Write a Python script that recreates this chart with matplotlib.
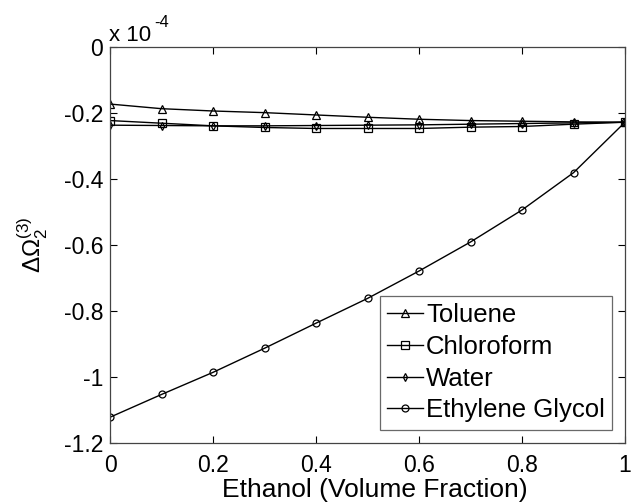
import matplotlib
matplotlib.use("Agg")
import matplotlib.pyplot as plt

plt.rcParams['font.family'] = ['Liberation Sans', 'DejaVu Sans']
plt.rcParams['mathtext.fontset'] = 'custom'
plt.rcParams['mathtext.rm'] = 'Liberation Sans'
plt.rcParams['mathtext.it'] = 'Liberation Sans:italic'
plt.rcParams['mathtext.bf'] = 'Liberation Sans:bold'

# Data (values in units of 1e-4)
ethanol = [0.0, 0.1, 0.2, 0.3, 0.4, 0.5, 0.6, 0.7, 0.8, 0.9, 1.0]
toluene = [-0.172, -0.186, -0.193, -0.198, -0.205, -0.212, -0.218, -0.222, -0.224, -0.226, -0.227]
chloroform = [-0.222, -0.230, -0.238, -0.243, -0.246, -0.246, -0.246, -0.242, -0.240, -0.233, -0.227]
water = [-0.236, -0.237, -0.238, -0.238, -0.237, -0.236, -0.235, -0.233, -0.231, -0.229, -0.227]
ethylene_glycol = [-1.121, -1.052, -0.985, -0.912, -0.836, -0.761, -0.678, -0.590, -0.493, -0.380, -0.227]

series_names = ['Toluene', 'Chloroform', 'Water', 'Ethylene Glycol']
xticks = [0, 0.2, 0.4, 0.6, 0.8, 1]
xticklabels = ['0', '0.2', '0.4', '0.6', '0.8', '1']
yticks = [0, -0.2, -0.4, -0.6, -0.8, -1, -1.2]
yticklabels = ['0', '-0.2', '-0.4', '-0.6', '-0.8', '-1', '-1.2']

W, H = 631, 504
fig = plt.figure(figsize=(W / 100, H / 100), dpi=100)
ax = fig.add_axes([110 / W, (H - 443.3) / H, (625 - 110) / W, (443.3 - 47.3) / H])

common = dict(color='black', lw=1.0, mfc='none', mec='black', mew=0.9)
ax.plot(ethanol, toluene, marker='^', ms=6, label=series_names[0], **common)
ax.plot(ethanol, chloroform, marker='s', ms=5.5, label=series_names[1], **common)
ax.plot(ethanol, water, marker='d', ms=4, label=series_names[2], **common)
ax.plot(ethanol, ethylene_glycol, marker='o', ms=5, label=series_names[3], **common)

ax.set_xlim(0, 1)
ax.set_ylim(-1.2, 0)
ax.set_xticks(xticks)
ax.set_xticklabels(xticklabels)
ax.set_yticks(yticks)
ax.set_yticklabels(yticklabels)
ax.tick_params(direction='in', length=5, width=0.8, top=True, right=True,
               labelsize=16.5, colors='black')
ax.tick_params(axis='x', pad=8)
ax.tick_params(axis='y', pad=5)
for s in ax.spines.values():
    s.set_color('#444444')
    s.set_linewidth(0.9)

ax.set_xlabel('Ethanol (Volume Fraction)', fontsize=19)
ax.xaxis.set_label_coords(0.515, -0.088)
ax.xaxis.label.set_va('top')
ax.set_ylabel(r'$\Delta\Omega_2^{(3)}$', fontsize=17.5)
ax.yaxis.set_label_coords(-0.116, 0.5)

fig.text(109 / W, (H - 41) / H, 'x 10', fontsize=16, ha='left', va='baseline')
fig.text(154 / W, (H - 50) / H + 0.045, '-4', fontsize=12, ha='left', va='baseline')

leg = ax.legend(loc='upper right', bbox_to_anchor=((612 - 110) / 515, (443.3 - 296) / 396),
                borderaxespad=0, fontsize=18.5, frameon=True, fancybox=False,
                edgecolor='#444444', labelspacing=0.3, handlelength=1.4,
                handletextpad=0.1, borderpad=0.28)
leg.get_frame().set_linewidth(0.9)

fig.savefig('out.png', dpi=100)
